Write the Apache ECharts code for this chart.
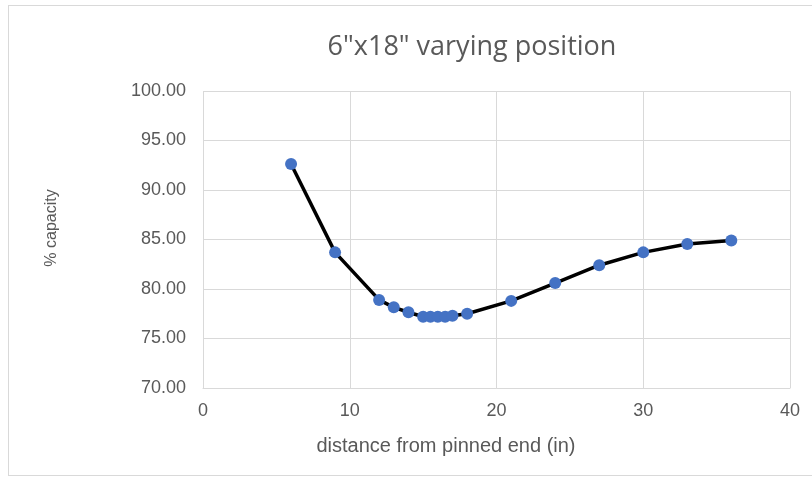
<!DOCTYPE html>
<html><head><meta charset="utf-8">
<script src="https://cdn.jsdelivr.net/npm/echarts@6/dist/echarts.min.js"></script>
<style>html,body{margin:0;padding:0;background:#fff}#c{width:812px;height:481px}
#frame{position:absolute;left:8px;top:5px;width:830px;height:471px;border:1px solid #d9d9d9;box-sizing:border-box;pointer-events:none}</style>
</head><body><div id="c"></div><div id="frame"></div>
<script>
const titleText = '6"x18" varying position';
const xName = 'distance from pinned end (in)';
const yName = '% capacity';
const xValues = [6, 9, 12, 13, 14, 15, 15.5, 16, 16.5, 17, 18, 21, 24, 27, 30, 33, 36];
const yValues = [92.63, 83.70, 78.90, 78.15, 77.65, 77.20, 77.20, 77.20, 77.20, 77.30, 77.50, 78.80, 80.60, 82.40, 83.70, 84.55, 84.90];

const chart = echarts.init(document.getElementById('c'), null, {renderer: 'canvas'});
const font = '"Open Sans", "Liberation Sans", sans-serif';
const font2 = '"Liberation Sans", Arial, sans-serif';
chart.setOption({
  animation: false,
  title: {text: titleText, left: 467, top: 29, textAlign: 'center',
    textStyle: {fontFamily: font, fontSize: 27, fontWeight: 'normal', color: '#595959'}},
  grid: {left: 203, right: 22, top: 91, bottom: 93},
  graphic: [
    {type: 'text', x: 446, y: 446, style: {text: xName, fontFamily: font2, fontSize: 20,
      fill: '#595959', align: 'center', verticalAlign: 'middle'}},
    {type: 'text', x: 52, y: 228, rotation: Math.PI / 2, style: {text: yName, fontFamily: font2, fontSize: 16,
      fill: '#595959', align: 'center', verticalAlign: 'middle'}}
  ],
  xAxis: {type: 'value', min: 0, max: 40, interval: 10,
    axisLine: {show: true, lineStyle: {color: '#d9d9d9', width: 1}},
    axisTick: {show: false},
    axisLabel: {fontFamily: font2, fontSize: 18, color: '#595959', margin: 14},
    splitLine: {show: true, lineStyle: {color: '#d9d9d9', width: 1}}},
  yAxis: {type: 'value', min: 70, max: 100, interval: 5,
    axisLine: {show: false}, axisTick: {show: false},
    axisLabel: {fontFamily: font2, fontSize: 18, color: '#595959', margin: 17,
      formatter: v => v.toFixed(2)},
    splitLine: {show: true, lineStyle: {color: '#d9d9d9', width: 1}}},
  series: [{type: 'line', data: xValues.map((x, i) => [x, yValues[i]]),
    smooth: false, symbol: 'circle', symbolSize: 12,
    lineStyle: {color: '#000', width: 3.5},
    itemStyle: {color: '#4472C4', borderWidth: 0}}]
});
</script></body></html>
